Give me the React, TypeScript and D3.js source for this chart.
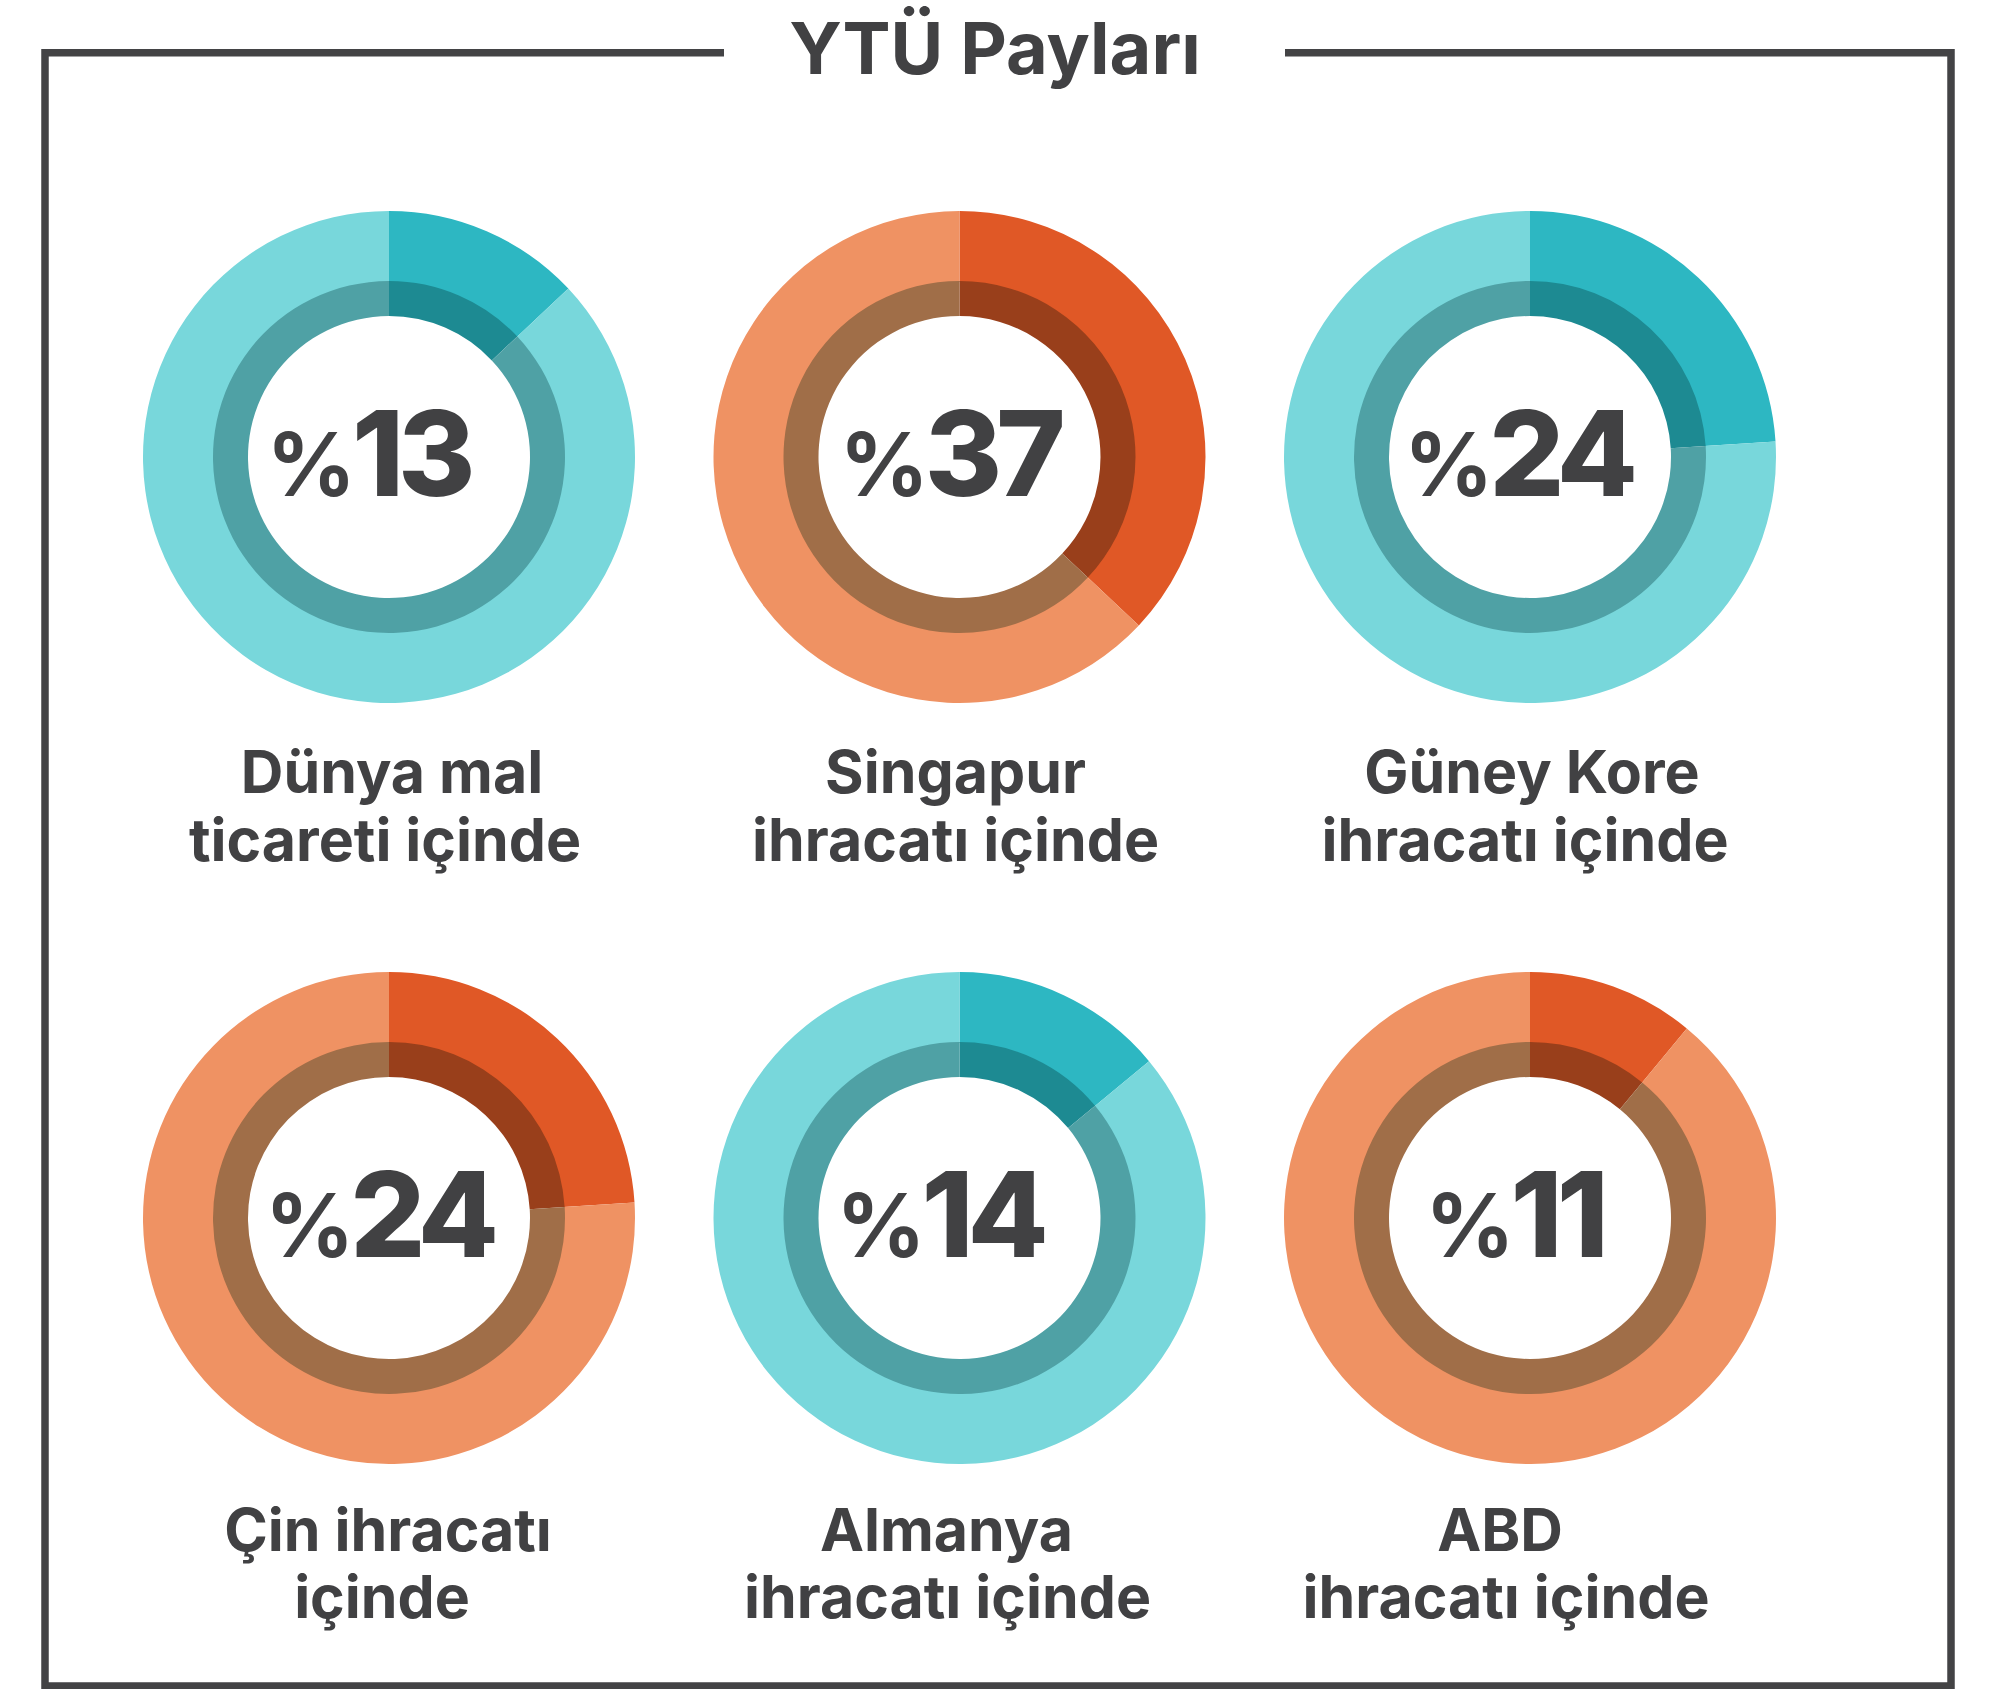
import React, { useEffect } from "react";
import * as d3 from "d3";

const title = "YTÜ Payları";
const shares = [13, 37, 24, 24, 14, 11];
const labelLine1 = ["Dünya mal", "Singapur", "Güney Kore", "Çin ihracatı", "Almanya", "ABD"];
const labelLine2 = ["ticareti içinde", "ihracatı içinde", "ihracatı içinde", "içinde", "ihracatı içinde", "ihracatı içinde"];
const themes = ["teal", "orange", "teal", "orange", "teal", "orange"];

const palette: Record<string, { light: string; dark: string; ring: string; ringDark: string }> = {
  teal: { light: "#78D7DB", dark: "#2DB7C2", ring: "#4FA1A5", ringDark: "#1D8A92" },
  orange: { light: "#EF9263", dark: "#E05826", ring: "#A06E48", ringDark: "#993F1B" },
};

const W = 2008;
const H = 1689;
const colX = [389, 959.5, 1530];
const rowY = [457, 1218];
const pctDx = [-21, -10, -12, -10, -20, -16];
const labelDx = [[3, -4], [-4, -4], [2, -5], [-1, -7], [-13, -12], [-30, -24]];
const ink = "#414143";
const font = "Inter, 'Noto Sans', sans-serif";

export default function App() {
  useEffect(() => {
    document.body.style.margin = "0";
  }, []);

  const pie = d3
    .pie<number>()
    .sort(null)
    .value((d) => d);
  const outerArc = d3.arc<d3.PieArcDatum<number>>().innerRadius(175).outerRadius(246);
  const innerArc = d3.arc<d3.PieArcDatum<number>>().innerRadius(141).outerRadius(176);

  return (
    <svg width={W} height={H} style={{ position: "absolute", left: 0, top: 0, display: "block" }}>
      <rect x={0} y={0} width={W} height={H} fill="#ffffff" />
      {/* frame */}
      <path
        d={`M724,52.7 L45,52.7 L45,1686 L1951,1686 L1951,52.7 L1285,52.7`}
        fill="none"
        stroke="#434345"
        strokeWidth={7.5}
        strokeLinejoin="miter"
        strokeLinecap="butt"
      />
      <text
        x={995}
        y={74}
        textAnchor="middle"
        fontFamily={font}
        fontWeight={700}
        fontSize={72}
        fill={ink}
      >
        {title}
      </text>
      {shares.map((v, i) => {
        const cx = colX[i % 3];
        const cy = rowY[Math.floor(i / 3)];
        const p = palette[themes[i]];
        const arcs = pie([v, 100 - v]);
        return (
          <g key={i} transform={`translate(${cx},${cy})`}>
            {arcs.map((a, j) => (
              <path key={"o" + j} d={outerArc(a) || ""} fill={j === 0 ? p.dark : p.light} />
            ))}
            {arcs.map((a, j) => (
              <path key={"i" + j} d={innerArc(a) || ""} fill={j === 0 ? p.ringDark : p.ring} />
            ))}
            <text
              x={pctDx[i]}
              y={39}
              textAnchor="middle"
              fontFamily={font}
              fontWeight={800}
              fill={ink}
            >
              <tspan fontSize={88} fontWeight={700}>%</tspan>
              <tspan fontSize={118} letterSpacing={-6} dx={-4}>{v}</tspan>
            </text>
            <text
              x={labelDx[i][0]}
              y={i < 3 ? 336 : 333}
              textAnchor="middle"
              fontFamily={font}
              fontWeight={700}
              fontSize={59}
              fill={ink}
            >
              {labelLine1[i]}
            </text>
            <text
              x={labelDx[i][1]}
              y={i < 3 ? 404 : 400}
              textAnchor="middle"
              fontFamily={font}
              fontWeight={700}
              fontSize={59}
              fill={ink}
            >
              {labelLine2[i]}
            </text>
          </g>
        );
      })}
    </svg>
  );
}
